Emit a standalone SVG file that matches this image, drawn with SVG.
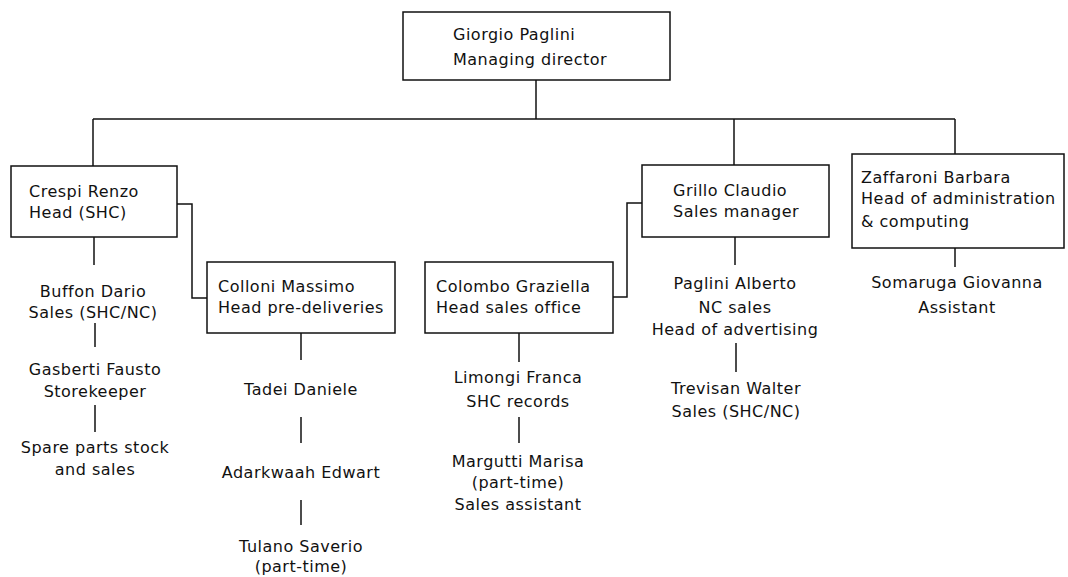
<svg xmlns="http://www.w3.org/2000/svg" width="1068" height="577" viewBox="0 0 1068 577">
  <style>
    .box { fill: #ffffff; stroke: #111111; stroke-width: 1.5; }
    .link { fill: none; stroke: #111111; stroke-width: 1.5; }
    text { font-family: "DejaVu Sans", "Liberation Sans", sans-serif; font-size: 16px; letter-spacing: 0.5px; fill: #111111; }
    .c { text-anchor: middle; }
  </style>
  <rect width="1068" height="577" fill="#ffffff"/>

  <!-- reporting lines -->
  <g id="connectors">
    <path class="link" d="M536 80 V119"/>
    <path class="link" d="M93 119 H955"/>
    <path class="link" d="M93 119 V166"/>
    <path class="link" d="M734 119 V165"/>
    <path class="link" d="M955 119 V154"/>
    <!-- Crespi to Colloni -->
    <path class="link" d="M177 204 H192 V298 H207"/>
    <!-- Colombo to Grillo -->
    <path class="link" d="M613 297 H627 V203 H642"/>
    <!-- left column -->
    <path class="link" d="M94 237 V265"/>
    <path class="link" d="M95 323 V347"/>
    <path class="link" d="M95 405 V432"/>
    <!-- Colloni column -->
    <path class="link" d="M301 333 V360"/>
    <path class="link" d="M301 417 V443"/>
    <path class="link" d="M301 500 V525"/>
    <!-- Colombo column -->
    <path class="link" d="M519 333 V362"/>
    <path class="link" d="M519 417 V443"/>
    <!-- Grillo column -->
    <path class="link" d="M735 237 V265"/>
    <path class="link" d="M736 343 V372"/>
    <!-- Zaffaroni column -->
    <path class="link" d="M955 248 V267"/>
  </g>

  <g id="paglini-giorgio">
    <rect class="box" x="403" y="12" width="267" height="68"/>
    <text x="453" y="40">Giorgio Paglini</text>
    <text x="453" y="65">Managing director</text>
  </g>

  <g id="crespi-renzo">
    <rect class="box" x="11" y="166" width="166" height="71"/>
    <text x="29" y="197">Crespi Renzo</text>
    <text x="29" y="218">Head (SHC)</text>
  </g>

  <g id="buffon-dario">
    <text class="c" x="93" y="297">Buffon Dario</text>
    <text class="c" x="93" y="318">Sales (SHC/NC)</text>
  </g>

  <g id="gasberti-fausto">
    <text class="c" x="95" y="375">Gasberti Fausto</text>
    <text class="c" x="95" y="397">Storekeeper</text>
  </g>

  <g id="spare-parts">
    <text class="c" x="95" y="453">Spare parts stock</text>
    <text class="c" x="95" y="475">and sales</text>
  </g>

  <g id="colloni-massimo">
    <rect class="box" x="207" y="262" width="188" height="71"/>
    <text x="218" y="292">Colloni Massimo</text>
    <text x="218" y="313">Head pre-deliveries</text>
  </g>

  <g id="tadei-daniele">
    <text class="c" x="301" y="395">Tadei Daniele</text>
  </g>

  <g id="adarkwaah-edwart">
    <text class="c" x="301" y="478">Adarkwaah Edwart</text>
  </g>

  <g id="tulano-saverio">
    <text class="c" x="301" y="552">Tulano Saverio</text>
    <text class="c" x="301" y="572">(part-time)</text>
  </g>

  <g id="colombo-graziella">
    <rect class="box" x="425" y="262" width="188" height="71"/>
    <text x="436" y="292">Colombo Graziella</text>
    <text x="436" y="313">Head sales office</text>
  </g>

  <g id="limongi-franca">
    <text class="c" x="518" y="383">Limongi Franca</text>
    <text class="c" x="518" y="407">SHC records</text>
  </g>

  <g id="margutti-marisa">
    <text class="c" x="518" y="467">Margutti Marisa</text>
    <text class="c" x="518" y="488">(part-time)</text>
    <text class="c" x="518" y="510">Sales assistant</text>
  </g>

  <g id="grillo-claudio">
    <rect class="box" x="642" y="165" width="187" height="72"/>
    <text x="673" y="196">Grillo Claudio</text>
    <text x="673" y="217">Sales manager</text>
  </g>

  <g id="paglini-alberto">
    <text class="c" x="735" y="289">Paglini Alberto</text>
    <text class="c" x="735" y="313">NC sales</text>
    <text class="c" x="735" y="335">Head of advertising</text>
  </g>

  <g id="trevisan-walter">
    <text class="c" x="736" y="394">Trevisan Walter</text>
    <text class="c" x="736" y="417">Sales (SHC/NC)</text>
  </g>

  <g id="zaffaroni-barbara">
    <rect class="box" x="852" y="154" width="212" height="94"/>
    <text x="861" y="183">Zaffaroni Barbara</text>
    <text x="861" y="204">Head of administration</text>
    <text x="861" y="227">&amp; computing</text>
  </g>

  <g id="somaruga-giovanna">
    <text class="c" x="957" y="288">Somaruga Giovanna</text>
    <text class="c" x="957" y="313">Assistant</text>
  </g>
</svg>
